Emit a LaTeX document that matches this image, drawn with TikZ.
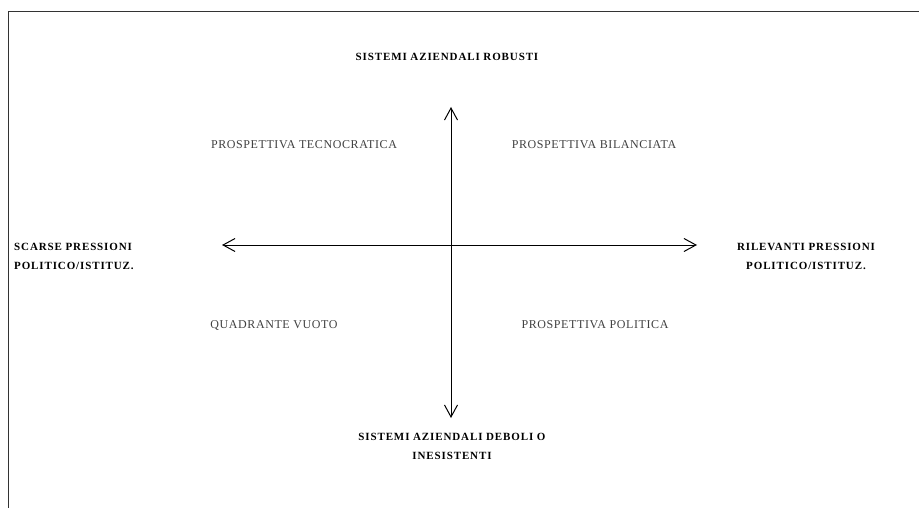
\documentclass[tikz,border=0pt]{standalone}
\usepackage{fontspec}
\setmainfont{Liberation Serif}
\usetikzlibrary{arrows.meta, positioning}

\begin{document}
\begin{tikzpicture}[
  x=1pt, y=-1pt,
  lab/.style={font=\fontsize{11}{19}\selectfont\bfseries\addfontfeatures{LetterSpace=8}, align=center, inner sep=1pt},
  quad/.style={font=\fontsize{12}{14}\selectfont\addfontfeatures{LetterSpace=5}, text=black!75, inner sep=1pt},
  axis/.style={{Straight Barb[length=12pt, width=13pt]}-{Straight Barb[length=12pt, width=13pt]}, draw=black, line width=1pt}
]
\useasboundingbox (0,0) rectangle (919,508);
\draw[line width=0.8pt, black!80] (8,508) -- (8,11) -- (919,11);

% axis end points
\coordinate (west) at (222,245);
\coordinate (east) at (697,245);
\coordinate (north) at (451,107);
\coordinate (south) at (451,418);

\node[lab] (robusti) at (447,57) {SISTEMI AZIENDALI ROBUSTI};
\node[lab] (deboli) at (452,446) {SISTEMI AZIENDALI DEBOLI O\\INESISTENTI};
\node[lab, align=left, anchor=west] (scarse) at (13,256) {SCARSE PRESSIONI\\POLITICO/ISTITUZ.};
\node[lab] (rilevanti) at (806,256) {RILEVANTI PRESSIONI\\POLITICO/ISTITUZ.};

\node[quad] (tecno) at (304,145) {PROSPETTIVA TECNOCRATICA};
\node[quad] (bilan) at (594,145) {PROSPETTIVA BILANCIATA};
\node[quad] (vuoto) at (274,325) {QUADRANTE VUOTO};
\node[quad] (polit) at (595,325) {PROSPETTIVA POLITICA};

\draw[axis] (west) -- (east);
\draw[axis] (south) -- (north);
\end{tikzpicture}
\end{document}
